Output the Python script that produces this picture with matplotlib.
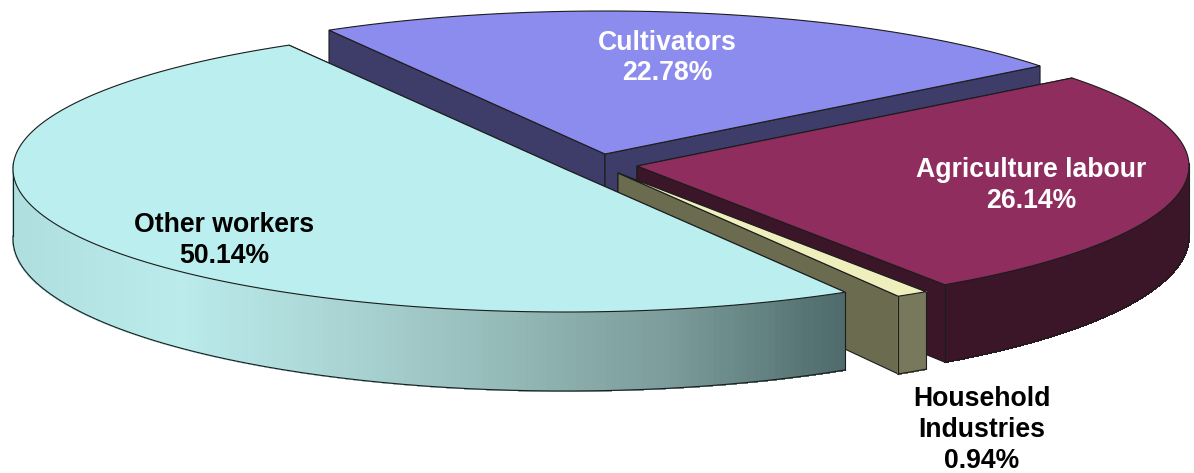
import numpy as np
import matplotlib
matplotlib.use('Agg')
import matplotlib.pyplot as plt
from matplotlib.collections import PolyCollection
from matplotlib.colors import LinearSegmentedColormap

plt.rcParams['font.family'] = ['Liberation Sans', 'DejaVu Sans']

labels = ['Cultivators', 'Agriculture labour', 'Household\nIndustries', 'Other workers']
values = [22.78, 26.14, 0.94, 50.14]

# look of each slice, back to front
top_colors = ['#8C8CEE', '#8E2D5E', '#EFEFBE', '#BBEEEE']
wall_colors = ['#3E3C68', '#3B1528', '#6B6B50', '#BBEEEE']
rim_colors = [['#3E3C68', '#3E3C68'],
              ['#3B1528', '#3B1528'],
              ['#78785C', '#78785C'],
              ['#AEDEDE', '#BBEBEB', '#AAD4D4', '#94B9B7', '#7A9B9A', '#4F6B6C']]
apex = [(605, 154), (637, 166), (618, 173), (565, 169)]
text_pos = [(667, 58), (1031, 185), (982, 430), (224, 240)]
text_colors = ['white', 'white', 'black', 'black']

rx, ry = 552, 143
start_angle = 120


def rim_point(center, a):
    return center[0] + rx * np.cos(a), center[1] - ry * np.sin(a)


def depth(a):
    # side wall gets a bit taller towards the viewer
    return 70 - 9 * np.sin(a)


fig = plt.figure(figsize=(11.94, 4.73), dpi=100)
ax = fig.add_axes([0, 0, 1, 1])
ax.set_xlim(0, 1194)
ax.set_ylim(473, 0)
ax.axis('off')

edge = '#1c1c1c'
angle = np.deg2rad(start_angle)
for i, v in enumerate(values):
    a0 = angle
    a1 = angle - np.deg2rad(v * 3.6)
    angle = a1
    cx, cy = apex[i]
    t = np.linspace(a0, a1, 240)
    xs, ys = rim_point(apex[i], t)
    z = 2 * i

    # cut walls
    for a in (a0, a1):
        px, py = rim_point(apex[i], a)
        ax.fill([cx, px, px, cx], [cy, py, py + depth(a), cy + 70], facecolor=wall_colors[i],
                edgecolor=edge, linewidth=0.8, zorder=z)

    # outer rim, only the part that faces us
    cmap = LinearSegmentedColormap.from_list('rim', rim_colors[i])
    span = max(xs.max() - (cx - rx), 1)
    quads, cols = [], []
    for j in range(len(t) - 1):
        if np.sin(t[j]) > 0.02:
            continue
        quads.append([(xs[j], ys[j]), (xs[j + 1], ys[j + 1]),
                      (xs[j + 1], ys[j + 1] + depth(t[j + 1])), (xs[j], ys[j] + depth(t[j]))])
        cols.append(cmap((xs[j] - (cx - rx)) / span))
    if quads:
        ax.add_collection(PolyCollection(quads, facecolors=cols, edgecolors=cols, linewidths=0.8,
                                         antialiaseds=False, zorder=z))
        front = t[np.sin(t) <= 0.02]
        fx, fy = rim_point(apex[i], front)
        ax.plot(fx, fy + depth(front), color=edge, linewidth=0.8, zorder=z)
        ax.plot([fx[0], fx[0]], [fy[0], fy[0] + depth(front[0])], color=edge, linewidth=0.8, zorder=z)
        ax.plot([fx[-1], fx[-1]], [fy[-1], fy[-1] + depth(front[-1])], color=edge, linewidth=0.8, zorder=z)

    # top face
    ax.fill(np.r_[cx, xs], np.r_[cy, ys], facecolor=top_colors[i], edgecolor=edge,
            linewidth=0.8, joinstyle='miter', zorder=z + 1)

for i, name in enumerate(labels):
    ax.text(text_pos[i][0], text_pos[i][1], f'{name}\n{values[i]:.2f}%', color=text_colors[i],
            fontsize=19.2, fontweight='bold', ha='center', va='center', linespacing=1.25, zorder=20)

fig.savefig('out.png', dpi=100)
